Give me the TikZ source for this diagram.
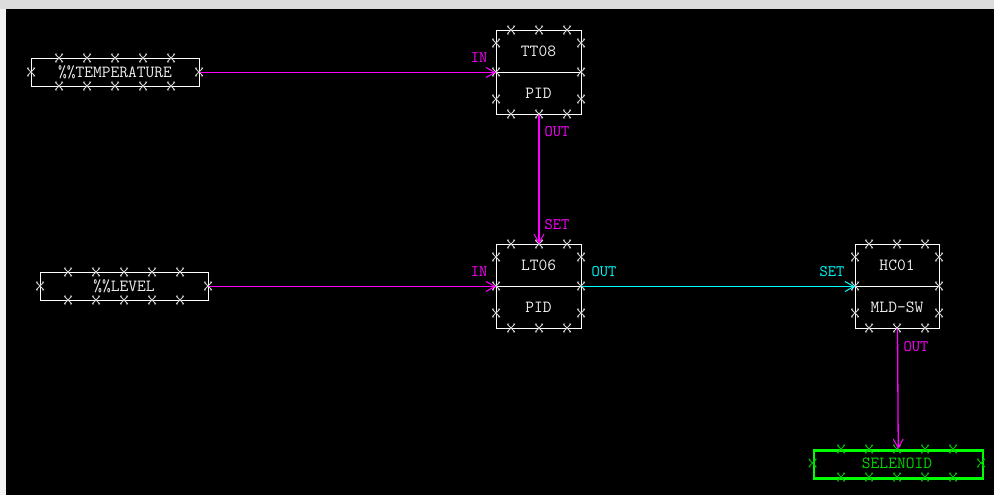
\documentclass[tikz,border=0pt]{standalone}
\usetikzlibrary{arrows.meta}
\definecolor{bgray}{HTML}{DCDCDC}
\definecolor{lgray}{HTML}{F2F2F2}
\definecolor{mag}{HTML}{FF00FF}
\definecolor{cyn}{HTML}{00FFFF}
\definecolor{xgray}{HTML}{D0D0D0}
\definecolor{tgray}{HTML}{EEEEEE}
\definecolor{grn}{HTML}{00FF00}
\definecolor{dgrn}{HTML}{00C000}
\tikzset{
  box/.style={draw=white, line width=1pt, inner sep=0pt, anchor=north west},
  txt/.style={text=tgray, font=\ttfamily\fontsize{17}{17}\selectfont, inner sep=0pt},
  lblm/.style={text=mag, font=\ttfamily\fontsize{16}{16}\selectfont, inner sep=0pt},
  lblc/.style={text=cyn, font=\ttfamily\fontsize{16}{16}\selectfont, inner sep=0pt},
  conm/.style={draw=mag, line width=1.3pt, -{Straight Barb[length=9pt,width=10pt,line width=1pt]}},
  conc/.style={draw=cyn, line width=1.3pt, -{Straight Barb[length=9pt,width=10pt,line width=1pt]}},
  xc/.pic={\draw[line width=0.9pt] (-3.5,-3.5)--(3.5,3.5) (-3.5,3.5)--(3.5,-3.5)
      (-4,-4)--(-2,-4) (2,-4)--(4,-4)
      (-4,4)--(-2,4) (2,4)--(4,4);},
}
\begin{document}
\begin{tikzpicture}[x=1pt,y=-1pt]
\useasboundingbox (0,0) rectangle (994,495);
\fill[lgray] (0,0) rectangle (994,495);
\fill[bgray] (0,0) rectangle (994,9);
\fill[black] (6,9) rectangle (994,495);

% boxes
\node[box, minimum width=168pt, minimum height=28pt] (temp) at (31,58) {};
\node[txt] (temptxt) at (115,72) {\%\%TEMPERATURE};
\node[box, minimum width=168pt, minimum height=28pt] (lev) at (40,272) {};
\node[txt] (levtxt) at (124,286.5) {\%\%LEVEL};

\node[box, minimum width=85pt, minimum height=84pt] (t8) at (496,30) {};
\draw[white, line width=1pt] (t8.west) -- (t8.east);
\node[txt] (t8a) at (538.5,51) {TT08};
\node[txt] (t8b) at (538.5,93) {PID};

\node[box, minimum width=85pt, minimum height=84pt] (l6) at (496,244) {};
\draw[white, line width=1pt] (l6.west) -- (l6.east);
\node[txt] (l6a) at (538.5,265) {LT06};
\node[txt] (l6b) at (538.5,307) {PID};

\node[box, minimum width=84pt, minimum height=84pt] (hc) at (855,244) {};
\draw[white, line width=1pt] (hc.west) -- (hc.east);
\node[txt] (hca) at (897,265) {HC01};
\node[txt] (hcb) at (897,307) {MLD-SW};

\node[box, draw=grn, line width=2.5pt, minimum width=169pt, minimum height=28pt] (sel) at (812.5,449) {};
\node[txt, text=grn!85!black] (seltxt) at (897,463) {SELENOID};

% crosses
\foreach \x in {59,87,115,143,171} {\pic[xgray] at (\x,58) {xc}; \pic[xgray] at (\x,86) {xc};}
\pic[xgray] at (31,72) {xc}; \pic[xgray] at (199,72) {xc};
\foreach \x in {68,96,124,152,180} {\pic[xgray] at (\x,272) {xc}; \pic[xgray] at (\x,300) {xc};}
\pic[xgray] at (40,286) {xc}; \pic[xgray] at (208,286) {xc};
\foreach \x in {511,539,567} {\pic[xgray] at (\x,30) {xc}; \pic[xgray] at (\x,114) {xc};
  \pic[xgray] at (\x,244) {xc}; \pic[xgray] at (\x,328) {xc};}
\foreach \y in {43,72,99} {\pic[xgray] at (496,\y) {xc}; \pic[xgray] at (581,\y) {xc};}
\foreach \y in {257,286,313} {\pic[xgray] at (496,\y) {xc}; \pic[xgray] at (581,\y) {xc};
  \pic[xgray] at (855,\y) {xc}; \pic[xgray] at (939,\y) {xc};}
\foreach \x in {869,897,925} {\pic[xgray] at (\x,244) {xc}; \pic[xgray] at (\x,328) {xc};}
\foreach \x in {841,869,897,925,953} {\pic[dgrn] at (\x,449) {xc}; \pic[dgrn] at (\x,477) {xc};}
\pic[dgrn] at (812.5,463) {xc}; \pic[dgrn] at (981,463) {xc};

% connectors
\draw[conm] (temp.east) -- (t8.west);
\draw[conm] (lev.east) -- (l6.west);
\draw[conm] (t8.south) -- (l6.north);
\draw[conc] (l6.east) -- (hc.west);
\draw[conm] (hc.south) -- (sel.north);

% labels
\node[lblm] (in1) at (479,58) {IN};
\node[lblm] (out1) at (557,132) {OUT};
\node[lblm] (set1) at (557,225) {SET};
\node[lblm] (in2) at (479,272) {IN};
\node[lblc] (out2) at (604,272) {OUT};
\node[lblc] (set2) at (832,272) {SET};
\node[lblm] (out3) at (916,347) {OUT};
\end{tikzpicture}
\end{document}
